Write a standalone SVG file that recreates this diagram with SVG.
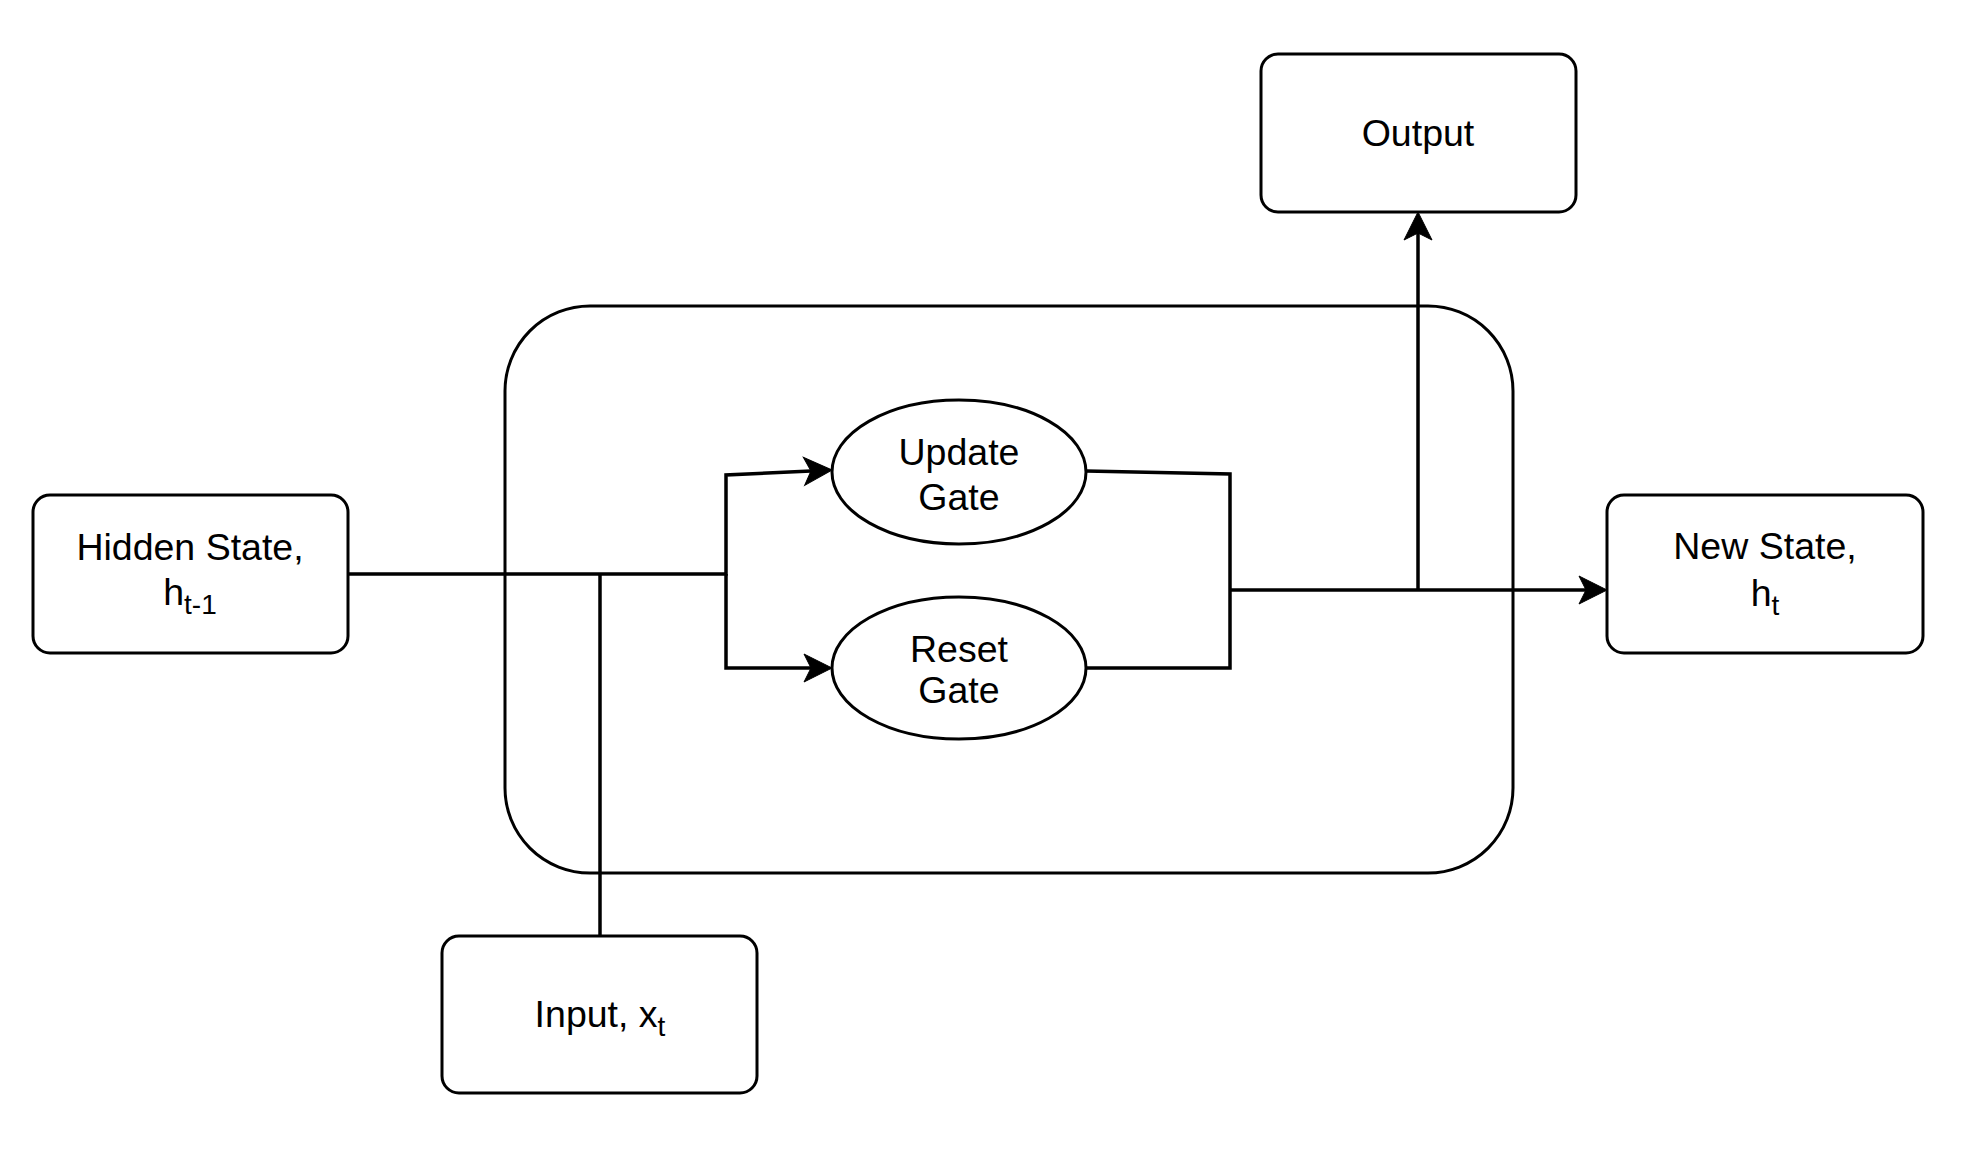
<svg xmlns="http://www.w3.org/2000/svg" width="1976" height="1172" viewBox="0 0 1976 1172">
<style>
.box{fill:#fff;stroke:#000;stroke-width:3}
.cont{fill:none;stroke:#000;stroke-width:3}
.edge{fill:none;stroke:#000;stroke-width:3.5}
.lbl{font-family:"Liberation Sans",Arial,Helvetica,sans-serif;font-size:37.5px;fill:#000;text-anchor:middle}
.sub{font-size:28px}
</style>
<defs>
<marker id="arr" markerUnits="userSpaceOnUse" markerWidth="60" markerHeight="60" refX="0" refY="0" orient="auto" overflow="visible" viewBox="-30 -30 60 60">
<path d="M21,0 L-7,-14 L0,0 L-7,14 Z" fill="#000" stroke="#000" stroke-width="1" stroke-linejoin="miter"/>
</marker>
</defs>
<rect width="1976" height="1172" fill="#fff"/>
<g id="gru-cell">
<rect class="cont" x="505" y="306" width="1008" height="567" rx="85" ry="85"/>
</g>
<g id="connectors">
<path class="edge" d="M348,574 H726 V475 L811,471" marker-end="url(#arr)"/>
<path class="edge" d="M726,574 V668 H811" marker-end="url(#arr)"/>
<path class="edge" d="M600,936 V574"/>
<path class="edge" d="M1086,471 L1230,474 V668 H1086"/>
<path class="edge" d="M1230,590 H1586" marker-end="url(#arr)"/>
<path class="edge" d="M1418,590 V233" marker-end="url(#arr)"/>
</g>
<g id="hidden-state">
<rect class="box" x="33" y="495" width="315" height="158" rx="17" ry="17"/>
<text class="lbl" x="190" y="560">Hidden State,</text>
<text class="lbl" x="190" y="605">h<tspan class="sub" dy="9">t-1</tspan></text>
</g>
<g id="update-gate">
<ellipse class="box" cx="959" cy="472" rx="127" ry="72"/>
<text class="lbl" x="959" y="465">Update</text>
<text class="lbl" x="959" y="510">Gate</text>
</g>
<g id="reset-gate">
<ellipse class="box" cx="959" cy="668" rx="127" ry="71"/>
<text class="lbl" x="959" y="662">Reset</text>
<text class="lbl" x="959" y="703">Gate</text>
</g>
<g id="output">
<rect class="box" x="1261" y="54" width="315" height="158" rx="17" ry="17"/>
<text class="lbl" x="1418" y="146">Output</text>
</g>
<g id="new-state">
<rect class="box" x="1607" y="495" width="316" height="158" rx="17" ry="17"/>
<text class="lbl" x="1765" y="559">New State,</text>
<text class="lbl" x="1765" y="606">h<tspan class="sub" dy="9">t</tspan></text>
</g>
<g id="input">
<rect class="box" x="442" y="936" width="315" height="157" rx="17" ry="17"/>
<text class="lbl" x="600" y="1027">Input, x<tspan class="sub" dy="9">t</tspan></text>
</g>
</svg>
